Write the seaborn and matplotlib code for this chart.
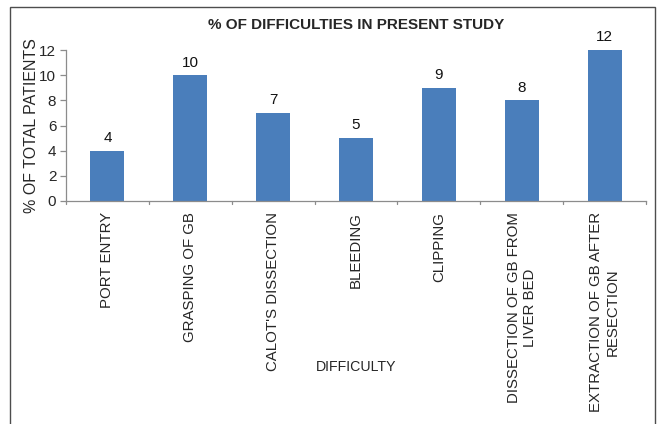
import matplotlib
matplotlib.use("Agg")
import matplotlib.pyplot as plt
import seaborn as sns
import pandas as pd
from matplotlib.patches import Rectangle

categories = [
    "PORT ENTRY",
    "GRASPING OF GB",
    "CALOT'S DISSECTION",
    "BLEEDING",
    "CLIPPING",
    "DISSECTION OF GB FROM\nLIVER BED",
    "EXTRACTION OF GB AFTER\nRESECTION",
]
values = [4, 10, 7, 5, 9, 8, 12]
yticks = [0, 2, 4, 6, 8, 10, 12]

sns.set_theme(style="white")
plt.rcParams["font.family"] = ["Liberation Sans", "DejaVu Sans"]

df = pd.DataFrame({"difficulty": categories, "pct": values})

W, H = 659, 424
fig = plt.figure(figsize=(W / 100, H / 100), dpi=100)
ax = fig.add_axes([66 / W, 1 - 201 / H, (646 - 66) / W, (201 - 50) / H])

sns.barplot(data=df, x="difficulty", y="pct", color="#4a7ebb", width=0.41,
            saturation=1, linewidth=0, ax=ax)

ax.set_ylim(0, 12)
ax.set_xlim(-0.5, len(categories) - 0.5)
ax.set_yticks(yticks)
ax.set_yticklabels([str(t) for t in yticks], fontsize=11)

for i, v in enumerate(values):
    ax.text(i, v + 0.45, str(v), ha="center", va="bottom", fontsize=11,
            color="#111111")

# category labels, rotated, centred under each bar
ax.set_xticks(range(len(categories)))
ax.set_xticklabels(categories, rotation=90, fontsize=10.8, va="top",
                   ha="center", multialignment="center")
ax.tick_params(axis="x", length=0, pad=8)
# boundary tick marks between categories
for b in [i - 0.5 for i in range(len(categories) + 1)]:
    ax.plot([b, b], [0, -0.25], color="#8c8c8c", lw=0.9, clip_on=False)
ax.tick_params(axis="y", length=4, width=0.9, color="#8c8c8c", direction="out",
               left=True, pad=3)

for s in ["top", "right"]:
    ax.spines[s].set_visible(False)
for s in ["left", "bottom"]:
    ax.spines[s].set_color("#8c8c8c")
    ax.spines[s].set_linewidth(0.9)

ax.set_xlabel("")
ax.set_ylabel("% OF TOTAL PATIENTS", fontsize=11.5, labelpad=0)

fig.text(356 / W, 1 - 25 / H, "% OF DIFFICULTIES IN PRESENT STUDY",
         ha="center", va="center", fontsize=11, fontweight="bold")
fig.text(356 / W, 1 - 367 / H, "DIFFICULTY", ha="center", va="center",
         fontsize=10.2)

# outer chart frame
fig.patches.append(Rectangle((10 / W, -0.02), (655 - 10) / W, 1 - 7 / H + 0.02,
                             transform=fig.transFigure, fill=False,
                             edgecolor="#4d4d4d", lw=1.0))

fig.savefig("out.png", dpi=100, facecolor="white")
